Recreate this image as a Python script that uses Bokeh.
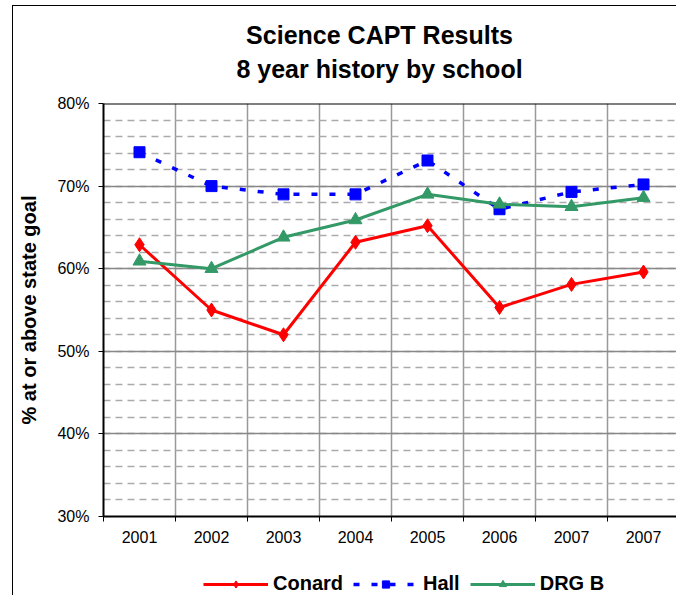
from bokeh.plotting import figure
from bokeh.layouts import column
from bokeh.models import (FixedTicker, Legend, LegendItem, Label, Range1d, Span,
                          ColumnDataSource)
from bokeh.embed import file_html
from bokeh.resources import INLINE

years = ["2001", "2002", "2003", "2004", "2005", "2006", "2007", "2007"]
conard = [62.9, 55.0, 52.0, 63.2, 65.2, 55.3, 58.1, 59.6]
hall = [74.1, 70.0, 69.0, 69.0, 73.1, 67.2, 69.3, 70.2]
drg_b = [60.9, 60.0, 63.8, 65.9, 69.0, 67.8, 67.5, 68.6]
y_ticks = [30, 40, 50, 60, 70, 80]
series_names = ["Conard", "Hall", "DRG B"]
title_lines = ["Science CAPT Results", "8 year history by school"]

FONT = "Liberation Sans"
RED, BLUE, GREEN = "#FF0000", "#0000FF", "#339966"
xs = list(range(1, len(years) + 1))

W = 664
H_TITLE, H, H_LEG = 88, 468, 34
LEFT = 90
cat_w = 72.0
x_end = 0.5 + (W - LEFT) / cat_w

# ---- title strip ----
pt = figure(width=W, height=H_TITLE, output_backend="svg", toolbar_location=None,
            x_range=Range1d(0, W - LEFT), y_range=Range1d(0, H_TITLE),
            x_axis_type=None, y_axis_type=None, min_border=0,
            min_border_left=0, min_border_right=0, min_border_top=0,
            min_border_bottom=0)
pt.styles = {"border-left": "1px solid black", "border-top": "1px solid black",
             "margin-left": "12px", "margin-top": "5px"}
pt.outline_line_color = None
pt.border_fill_color = "white"
pt.background_fill_color = "white"
pt.xgrid.grid_line_color = None
pt.ygrid.grid_line_color = None
for txt, yy in zip(title_lines, [60, 26]):
    pt.add_layout(Label(x=276, y=yy, text=txt, text_align="center",
                        text_baseline="alphabetic", text_font=FONT,
                        text_font_size="25px", text_font_style="bold",
                        text_color="black"))

# ---- main chart ----
p = figure(width=W, height=H, output_backend="svg", toolbar_location=None,
           x_range=Range1d(0.5, x_end), y_range=Range1d(30, 80),
           min_border_left=LEFT, min_border_right=0, min_border_top=10,
           min_border_bottom=45)
p.styles = {"border-left": "1px solid black", "margin-left": "12px"}
p.outline_line_color = None
p.background_fill_color = "white"
p.border_fill_color = "white"

x_ticker = FixedTicker(ticks=xs, minor_ticks=[x - 0.5 for x in xs] + [len(xs) + 0.5])
y_ticker = FixedTicker(ticks=y_ticks, minor_ticks=list(range(30, 81, 2)))

xa = p.below[0]
xa.ticker = x_ticker
xa.major_label_overrides = {x: y for x, y in zip(xs, years)}
xa.major_tick_line_color = None
xa.major_tick_out = 5
xa.minor_tick_line_color = "black"
xa.minor_tick_in = 0
xa.minor_tick_out = 5
xa.axis_line_color = "black"
xa.axis_line_width = 2
xa.major_label_text_font = FONT
xa.major_label_text_font_size = "16px"
xa.major_label_text_color = "black"
xa.major_label_standoff = 9

ya = p.left[0]
ya.ticker = y_ticker
ya.major_label_overrides = {v: f"{v}%" for v in y_ticks}
ya.minor_tick_line_color = None
ya.major_tick_in = 0
ya.major_tick_out = 5
ya.major_tick_line_color = "black"
ya.axis_line_color = "black"
ya.axis_line_width = 2
ya.major_label_text_font = FONT
ya.major_label_text_font_size = "16px"
ya.major_label_text_color = "black"
ya.major_label_standoff = 9
ya.axis_label = "% at or above state goal"
ya.axis_label_text_font = FONT
ya.axis_label_text_font_size = "20px"
ya.axis_label_text_font_style = "bold"
ya.axis_label_text_color = "black"
ya.axis_label_standoff = 14

p.xgrid.ticker = x_ticker
p.xgrid.grid_line_color = None
p.xgrid.minor_grid_line_color = "#999999"
p.xgrid.minor_grid_line_width = 1.5
p.ygrid.ticker = y_ticker
p.ygrid.grid_line_color = "#888888"
p.ygrid.grid_line_width = 1.5
p.ygrid.minor_grid_line_color = "#aaaaaa"
p.ygrid.minor_grid_line_width = 1.5
p.ygrid.minor_grid_line_dash = "7 5"

p.add_layout(Span(location=y_ticks[-1], dimension="width", line_color="black",
                  line_width=2))

src = ColumnDataSource(dict(x=xs, conard=conard, hall=hall, drg=drg_b))


def draw(fig):
    return [
        [fig.line("x", "conard", source=src, color=RED, line_width=3),
         fig.scatter("x", "conard", source=src, marker="diamond", size=14, color=RED)],
        [fig.line("x", "hall", source=src, color=BLUE, line_width=3.5, line_dash="6 12"),
         fig.scatter("x", "hall", source=src, marker="square", size=11, color=BLUE)],
        [fig.line("x", "drg", source=src, color=GREEN, line_width=3),
         fig.scatter("x", "drg", source=src, marker="triangle", size=13, color=GREEN)],
    ]


draw(p)

# ---- legend strip (same series, drawn outside its view; only the keys show) ----
pl = figure(width=W, height=H_LEG, output_backend="svg", toolbar_location=None,
            x_range=Range1d(0, 1), y_range=Range1d(0, 1),
            x_axis_type=None, y_axis_type=None, min_border=0,
            min_border_left=0, min_border_right=0, min_border_top=0,
            min_border_bottom=0)
pl.styles = {"border-left": "1px solid black", "margin-left": "12px"}
pl.outline_line_color = None
pl.border_fill_color = "white"
pl.background_fill_color = "white"
pl.xgrid.grid_line_color = None
pl.ygrid.grid_line_color = None
keys = draw(pl)

legend = Legend(items=[LegendItem(label=n, renderers=r)
                       for n, r in zip(series_names, keys)],
                orientation="horizontal", location=(100, 0),
                label_text_font=FONT, label_text_font_size="20px",
                label_text_font_style="bold", label_text_color="black",
                glyph_width=65, glyph_height=18, label_standoff=5, spacing=10,
                border_line_color=None, background_fill_alpha=0,
                padding=0, margin=0)
pl.add_layout(legend)

layout = column(pt, p, pl, spacing=0)
open("out.html", "w").write(file_html(layout, INLINE))
